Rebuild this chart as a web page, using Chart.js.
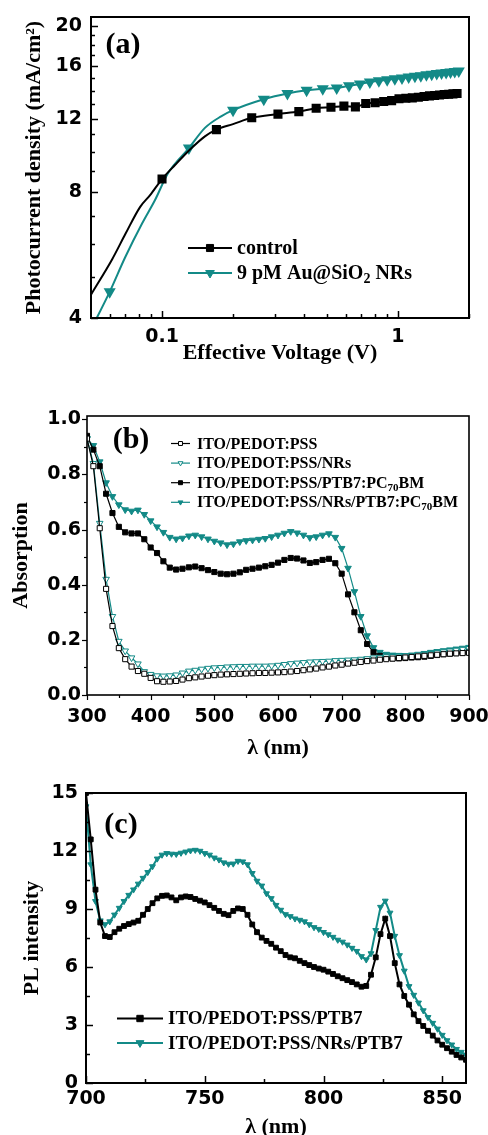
<!DOCTYPE html>
<html>
<head>
<meta charset="utf-8">
<script src="https://cdn.jsdelivr.net/npm/chart.js@4"></script>
<style>
  html, body { margin: 0; padding: 0; background: #fff; overflow: hidden; }
  canvas { position: absolute; left: 0; }
  #ca { top: 0; }
  #cb { top: 380px; }
  #cc { top: 765px; }
</style>
</head>
<body>
<canvas id="ca" width="488" height="372"></canvas>
<canvas id="cb" width="488" height="385"></canvas>
<canvas id="cc" width="488" height="380"></canvas>
<script>
// ---------- panel (a): photocurrent vs effective voltage ----------
const voltCtrl = [0.10, 0.17, 0.24, 0.31, 0.38, 0.45, 0.52, 0.59, 0.66, 0.73, 0.80, 0.87, 0.94, 1.01, 1.08, 1.15, 1.22, 1.29, 1.36, 1.43, 1.50, 1.57, 1.64, 1.71, 1.78];
const jCtrl = [8.6, 11.29, 12.05, 12.3, 12.47, 12.7, 12.77, 12.85, 12.8, 13.04, 13.1, 13.19, 13.25, 13.39, 13.42, 13.45, 13.5, 13.55, 13.6, 13.63, 13.66, 13.7, 13.72, 13.75, 13.78];
const voltCtrlLine = [0.05, 0.0615, 0.07, 0.0808, 0.089, 0.1135, 0.1334, 0.152, 0.2];
const jCtrlLine = [4.55, 5.53, 6.36, 7.38, 7.87, 9.29, 10.2, 10.88, 11.64];

const voltNR = [0.06, 0.13, 0.20, 0.27, 0.34, 0.41, 0.48, 0.55, 0.62, 0.69, 0.76, 0.83, 0.90, 0.97, 1.04, 1.11, 1.18, 1.25, 1.32, 1.39, 1.46, 1.53, 1.60, 1.67, 1.74, 1.81];
const jNR = [4.62, 10.2, 12.57, 13.35, 13.78, 14.02, 14.15, 14.2, 14.38, 14.52, 14.68, 14.78, 14.86, 14.94, 15.0, 15.08, 15.15, 15.2, 15.28, 15.33, 15.38, 15.42, 15.46, 15.5, 15.55, 15.6];
const voltNRLine = [0.05, 0.0698, 0.0823, 0.0934, 0.106, 0.152, 0.178];
const jNRLine = [3.76, 5.59, 6.73, 7.66, 8.88, 11.4, 12.15];

const jTicks = [4, 5, 6, 7, 8, 9, 10, 11, 12, 13, 14, 15, 16, 17, 18, 19, 20];
const jLabels = [4, 8, 12, 16, 20];
const voltTicks = [0.06, 0.07, 0.08, 0.09, 0.1, 0.2, 0.3, 0.4, 0.5, 0.6, 0.7, 0.8, 0.9, 1, 2];
const voltLabels = [0.1, 1];

// ---------- panel (b): absorption spectra ----------
const wlAbs = [300, 310, 320, 330, 340, 350, 360, 370, 380, 390, 400, 410, 420, 430, 440, 450, 460, 470, 480, 490, 500, 510, 520, 530, 540, 550, 560, 570, 580, 590, 600, 610, 620, 630, 640, 650, 660, 670, 680, 690, 700, 710, 720, 730, 740, 750, 760, 770, 780, 790, 800, 810, 820, 830, 840, 850, 860, 870, 880, 890, 900];
const absPedot = [0.93, 0.83, 0.605, 0.385, 0.25, 0.17, 0.13, 0.103, 0.087, 0.077, 0.062, 0.05, 0.048, 0.049, 0.051, 0.056, 0.061, 0.064, 0.067, 0.07, 0.072, 0.074, 0.075, 0.076, 0.077, 0.078, 0.079, 0.08, 0.08, 0.081, 0.082, 0.083, 0.085, 0.087, 0.09, 0.093, 0.096, 0.1, 0.103, 0.107, 0.11, 0.114, 0.117, 0.12, 0.123, 0.125, 0.128, 0.13, 0.132, 0.134, 0.136, 0.138, 0.14, 0.142, 0.144, 0.146, 0.148, 0.15, 0.151, 0.152, 0.153];
const absPedotNR = [0.93, 0.84, 0.623, 0.42, 0.285, 0.195, 0.16, 0.135, 0.113, 0.085, 0.075, 0.07, 0.069, 0.07, 0.073, 0.08, 0.087, 0.09, 0.094, 0.097, 0.099, 0.1, 0.102, 0.103, 0.104, 0.104, 0.105, 0.105, 0.105, 0.106, 0.108, 0.111, 0.114, 0.116, 0.118, 0.12, 0.121, 0.122, 0.123, 0.125, 0.126, 0.127, 0.128, 0.13, 0.132, 0.135, 0.137, 0.139, 0.14, 0.141, 0.142, 0.144, 0.146, 0.148, 0.151, 0.154, 0.157, 0.16, 0.163, 0.166, 0.169];
const absBlend = [0.94, 0.89, 0.83, 0.73, 0.66, 0.61, 0.59, 0.586, 0.586, 0.565, 0.535, 0.515, 0.485, 0.462, 0.455, 0.458, 0.463, 0.466, 0.46, 0.453, 0.446, 0.44, 0.438, 0.44, 0.445, 0.454, 0.458, 0.462, 0.467, 0.472, 0.48, 0.49, 0.497, 0.495, 0.488, 0.479, 0.482, 0.49, 0.494, 0.478, 0.44, 0.365, 0.3, 0.235, 0.185, 0.155, 0.142, 0.135, 0.133, 0.133, 0.134, 0.136, 0.137, 0.139, 0.142, 0.145, 0.148, 0.15, 0.152, 0.154, 0.156];
const absBlendNR = [0.93, 0.905, 0.846, 0.77, 0.72, 0.69, 0.672, 0.667, 0.671, 0.655, 0.632, 0.61, 0.59, 0.572, 0.566, 0.569, 0.577, 0.58, 0.574, 0.566, 0.558, 0.552, 0.545, 0.548, 0.556, 0.56, 0.562, 0.565, 0.568, 0.574, 0.58, 0.587, 0.593, 0.588, 0.58, 0.571, 0.574, 0.58, 0.585, 0.572, 0.532, 0.46, 0.375, 0.285, 0.215, 0.172, 0.155, 0.148, 0.145, 0.144, 0.143, 0.145, 0.148, 0.151, 0.155, 0.158, 0.161, 0.164, 0.167, 0.17, 0.173];
const absTicks = [0, 0.1, 0.2, 0.3, 0.4, 0.5, 0.6, 0.7, 0.8, 0.9, 1.0];
const absLabels = [0, 0.2, 0.4, 0.6, 0.8, 1.0];
const wlAbsTicks = [300, 350, 400, 450, 500, 550, 600, 650, 700, 750, 800, 850, 900];
const wlAbsLabels = [300, 400, 500, 600, 700, 800, 900];

// ---------- panel (c): PL spectra ----------
const wlPL = [700, 702, 704, 706, 708, 710, 712, 714, 716, 718, 720, 722, 724, 726, 728, 730, 732, 734, 736, 738, 740, 742, 744, 746, 748, 750, 752, 754, 756, 758, 760, 762, 764, 766, 768, 770, 772, 774, 776, 778, 780, 782, 784, 786, 788, 790, 792, 794, 796, 798, 800, 802, 804, 806, 808, 810, 812, 814, 816, 818, 820, 822, 824, 826, 828, 830, 832, 834, 836, 838, 840, 842, 844, 846, 848, 850, 852, 854, 856, 858, 860];
const plRef = [15.0, 12.6, 10.0, 8.3, 7.6, 7.55, 7.8, 7.98, 8.12, 8.22, 8.3, 8.39, 8.7, 9.0, 9.3, 9.55, 9.68, 9.7, 9.6, 9.45, 9.6, 9.65, 9.62, 9.52, 9.43, 9.34, 9.2, 9.06, 8.9, 8.75, 8.68, 8.9, 9.03, 9.0, 8.7, 8.2, 7.8, 7.52, 7.35, 7.2, 7.0, 6.82, 6.62, 6.5, 6.45, 6.32, 6.2, 6.1, 6.0, 5.92, 5.86, 5.76, 5.64, 5.52, 5.42, 5.32, 5.22, 5.1, 4.98, 5.02, 5.6, 6.5, 7.7, 8.5, 7.6, 6.2, 5.1, 4.5, 4.05, 3.55, 3.2, 2.95, 2.7, 2.45, 2.2, 1.98, 1.8, 1.62, 1.45, 1.32, 1.2];
const plNR = [14.3, 11.3, 9.4, 8.4, 8.2, 8.35, 8.7, 9.05, 9.4, 9.72, 10.0, 10.3, 10.6, 10.9, 11.2, 11.6, 11.8, 11.88, 11.85, 11.84, 11.9, 11.96, 12.02, 12.05, 12.0, 11.88, 11.8, 11.65, 11.55, 11.4, 11.33, 11.34, 11.48, 11.45, 11.3, 10.85, 10.45, 10.2, 9.8, 9.55, 9.2, 8.95, 8.72, 8.62, 8.5, 8.43, 8.35, 8.2, 8.05, 7.96, 7.8, 7.68, 7.55, 7.4, 7.3, 7.15, 6.98, 6.82, 6.55, 6.38, 6.7, 7.9, 9.1, 9.42, 8.8, 7.6, 6.6, 5.8, 5.0, 4.55, 4.15, 3.75, 3.4, 3.1, 2.8, 2.48, 2.2, 1.98, 1.75, 1.6, 1.45];
const plTicks = [0, 1.5, 3, 4.5, 6, 7.5, 9, 10.5, 12, 13.5, 15];
const plLabels = [0, 3, 6, 9, 12, 15];
const wlPLTicks = [700, 725, 750, 775, 800, 825, 850];
const wlPLLabels = [700, 750, 800, 850];

const TEAL = "#138a87";
const SERIF = "'Liberation Serif', 'Times New Roman', serif";
const SANS = "'DejaVu Sans', sans-serif";

// text with _{sub} parts, drawn left to right
function drawRich(ctx, str, x, y, size) {
  str.split(/(_\{[^}]*\})/).forEach(p => {
    if (!p) return;
    const sub = p.startsWith("_{");
    const s = sub ? p.slice(2, -1) : p;
    ctx.font = "bold " + (sub ? Math.round(size * 0.68) : size) + "px " + SERIF;
    ctx.fillText(s, x, sub ? y + size * 0.25 : y);
    x += ctx.measureText(s).width;
  });
}

function drawMarker(ctx, style, x, y, r, fill, stroke) {
  ctx.beginPath();
  if (style === "rect") {
    const h = r * Math.SQRT1_2;
    ctx.rect(x - h, y - h, 2 * h, 2 * h);
  } else {
    // downward triangle, same as chart.js triangle rotated 180
    ctx.moveTo(x, y + r);
    ctx.lineTo(x - r * 0.866, y - r * 0.5);
    ctx.lineTo(x + r * 0.866, y - r * 0.5);
    ctx.closePath();
  }
  ctx.fillStyle = fill;
  ctx.fill();
  ctx.lineWidth = 1;
  ctx.strokeStyle = stroke;
  ctx.stroke();
}

// box frame, tick marks, in-plot legend and panel letter
const framePlugin = {
  id: "frame",
  afterDraw(chart, args, o) {
    const { ctx, chartArea: a } = chart;
    ctx.save();
    ctx.strokeStyle = "#000";
    ctx.lineWidth = o.lineWidth;
    ctx.strokeRect(a.left, a.top, a.right - a.left, a.bottom - a.top);
    const dir = o.out ? -1 : 1;
    const xs = chart.scales.x, ys = chart.scales.y;
    ctx.lineWidth = o.tickWidth;
    xs.ticks.forEach(t => {
      const px = Math.round(xs.getPixelForValue(t.value)) + 0.5;
      const len = t.label ? o.major : o.minor;
      ctx.beginPath();
      ctx.moveTo(px, a.bottom);
      ctx.lineTo(px, a.bottom - dir * len);
      ctx.stroke();
    });
    ys.ticks.forEach(t => {
      const py = Math.round(ys.getPixelForValue(t.value)) + 0.5;
      const len = t.label ? o.major : o.minor;
      ctx.beginPath();
      ctx.moveTo(a.left, py);
      ctx.lineTo(a.left + dir * len, py);
      ctx.stroke();
    });

    // panel letter
    ctx.fillStyle = "#000";
    ctx.textAlign = "center";
    ctx.textBaseline = "middle";
    ctx.font = "bold 30px " + SERIF;
    ctx.fillText(o.panel[0], o.panel[1], o.panel[2]);

    // legend
    const lg = o.legend;
    ctx.textAlign = "left";
    chart.data.datasets.forEach((ds, i) => {
      const y = lg.y + i * lg.step;
      ctx.strokeStyle = ds.borderColor;
      ctx.lineWidth = ds.borderWidth;
      ctx.beginPath();
      ctx.moveTo(lg.x0, y);
      ctx.lineTo(lg.x1, y);
      ctx.stroke();
      drawMarker(ctx, ds.pointStyle, (lg.x0 + lg.x1) / 2, y, lg.r,
        ds.pointBackgroundColor, ds.pointBorderColor);
      ctx.fillStyle = "#000";
      drawRich(ctx, ds.label, lg.tx, y + 1, lg.size);
    });
    ctx.restore();
  }
};

function axis(type, min, max, tickVals, labelVals, fmt, size, pad, titleText, titlePad) {
  const horiz = titlePad.top === 0;
  return {
    type: type,
    min: min,
    max: max,
    grid: { display: false, drawTicks: false },
    border: { display: false },
    afterBuildTicks: s => { s.ticks = tickVals.map(v => ({ value: v })); },
    // fixed axis box so the plot area lands where the reference has it
    afterFit: s => {
      if (horiz) {
        s.height = size;
        s.paddingLeft = 0;
        s.paddingRight = 0;
      } else {
        s.width = size;
        s.paddingTop = 0;
        s.paddingBottom = 0;
      }
    },
    ticks: {
      autoSkip: false,
      maxRotation: 0,
      padding: pad,
      color: "#000",
      font: { family: SANS, weight: "bold", size: 19 },
      callback: v => labelVals.some(l => Math.abs(l - v) < 1e-9) ? fmt(v) : ""
    },
    title: {
      display: true,
      text: titleText,
      color: "#000",
      padding: titlePad,
      font: { family: SERIF, weight: "bold", size: 22 }
    }
  };
}

function merge(vm, ym, vl, yl) {
  const pts = vm.map((v, i) => ({ x: v, y: ym[i], m: 1 }))
    .concat(vl.map((v, i) => ({ x: v, y: yl[i], m: 0 })));
  return pts.sort((p, q) => p.x - q.x);
}

function xy(xs, ys) {
  return xs.map((v, i) => ({ x: v, y: ys[i] }));
}

// ---- chart (a)
new Chart(document.getElementById("ca"), {
  type: "line",
  data: {
    datasets: [
      {
        label: "control",
        data: merge(voltCtrl, jCtrl, voltCtrlLine, jCtrlLine),
        borderColor: "#000",
        borderWidth: 2,
        pointStyle: "rect",
        pointRadius: c => (c.raw && c.raw.m ? 5 : 0),
        pointBackgroundColor: "#000",
        pointBorderColor: "#000",
        cubicInterpolationMode: "monotone"
      },
      {
        label: "9 pM Au@SiO_{2} NRs",
        data: merge(voltNR, jNR, voltNRLine, jNRLine),
        borderColor: TEAL,
        borderWidth: 2,
        pointStyle: "triangle",
        rotation: 180,
        pointRadius: c => (c.raw && c.raw.m ? 5 : 0),
        pointBackgroundColor: TEAL,
        pointBorderColor: TEAL,
        cubicInterpolationMode: "monotone"
      }
    ]
  },
  options: {
    responsive: false,
    animation: false,
    layout: { padding: { top: 17, right: 19, left: 0, bottom: 0 } },
    plugins: {
      legend: { display: false },
      tooltip: { enabled: false },
      frame: {
        lineWidth: 2, tickWidth: 1.5, out: false, major: 7, minor: 4,
        panel: ["(a)", 123, 45],
        legend: { x0: 188, x1: 232, y: 248, step: 25, r: 5, tx: 237, size: 20 }
      }
    },
    scales: {
      x: axis("logarithmic", 0.05, 2, voltTicks, voltLabels, v => String(v),
        54, 8, "Effective Voltage (V)", { top: 0, bottom: 5 }),
      y: axis("logarithmic", 4, 21, jTicks, jLabels, v => String(v),
        91, 9, "Photocurrent density (mA/cm²)", { top: 21, bottom: 0 })
    }
  },
  plugins: [framePlugin]
});

// ---- chart (b)
new Chart(document.getElementById("cb"), {
  type: "line",
  data: {
    datasets: [
      {
        label: "ITO/PEDOT:PSS",
        data: xy(wlAbs, absPedot),
        borderColor: "#000", borderWidth: 1.2,
        pointStyle: "rect", pointRadius: 3.6, pointBorderWidth: 1,
        pointBackgroundColor: "#fff", pointBorderColor: "#000"
      },
      {
        label: "ITO/PEDOT:PSS/NRs",
        data: xy(wlAbs, absPedotNR),
        borderColor: TEAL, borderWidth: 1.2,
        pointStyle: "triangle", rotation: 180, pointRadius: 3.8, pointBorderWidth: 1,
        pointBackgroundColor: "#fff", pointBorderColor: TEAL
      },
      {
        label: "ITO/PEDOT:PSS/PTB7:PC_{70}BM",
        data: xy(wlAbs, absBlend),
        borderColor: "#000", borderWidth: 1.2,
        pointStyle: "rect", pointRadius: 3.6, pointBorderWidth: 1,
        pointBackgroundColor: "#000", pointBorderColor: "#000"
      },
      {
        label: "ITO/PEDOT:PSS/NRs/PTB7:PC_{70}BM",
        data: xy(wlAbs, absBlendNR),
        borderColor: TEAL, borderWidth: 1.2,
        pointStyle: "triangle", rotation: 180, pointRadius: 3.8, pointBorderWidth: 1,
        pointBackgroundColor: TEAL, pointBorderColor: TEAL
      }
    ]
  },
  options: {
    responsive: false,
    animation: false,
    layout: { padding: { top: 36, right: 19, left: 0, bottom: 0 } },
    plugins: {
      legend: { display: false },
      tooltip: { enabled: false },
      frame: {
        lineWidth: 1.6, tickWidth: 1.2, out: true, major: 5, minor: 3,
        panel: ["(b)", 131, 60],
        legend: { x0: 171, x1: 190, y: 63.5, step: 19.6, r: 2.8, tx: 197, size: 16 }
      }
    },
    scales: {
      x: axis("linear", 300, 900, wlAbsTicks, wlAbsLabels, v => String(v),
        70, 11, "λ (nm)", { top: 0, bottom: 3 }),
      y: axis("linear", 0, 1.012, absTicks, absLabels, v => v.toFixed(1),
        87, 6, "Absorption", { top: 8, bottom: 0 })
    }
  },
  plugins: [framePlugin]
});

// ---- chart (c)
new Chart(document.getElementById("cc"), {
  type: "line",
  data: {
    datasets: [
      {
        label: "ITO/PEDOT:PSS/PTB7",
        data: xy(wlPL, plRef),
        borderColor: "#000", borderWidth: 2,
        pointStyle: "rect", pointRadius: 3.4, pointBorderWidth: 1,
        pointBackgroundColor: "#000", pointBorderColor: "#000"
      },
      {
        label: "ITO/PEDOT:PSS/NRs/PTB7",
        data: xy(wlPL, plNR),
        borderColor: TEAL, borderWidth: 2,
        pointStyle: "triangle", rotation: 180, pointRadius: 3.4, pointBorderWidth: 1,
        pointBackgroundColor: TEAL, pointBorderColor: TEAL
      }
    ]
  },
  options: {
    responsive: false,
    animation: false,
    layout: { padding: { top: 28, right: 22, left: 0, bottom: 0 } },
    plugins: {
      legend: { display: false },
      tooltip: { enabled: false },
      frame: {
        lineWidth: 2, tickWidth: 1.5, out: false, major: 7, minor: 4,
        panel: ["(c)", 121, 60],
        legend: { x0: 117, x1: 163, y: 253.5, step: 24.4, r: 4.5, tx: 168, size: 19 }
      }
    },
    scales: {
      x: axis("linear", 700, 860, wlPLTicks, wlPLLabels, v => String(v),
        62, 5, "λ (nm)", { top: 0, bottom: 4 }),
      y: axis("linear", 0, 15, plTicks, plLabels, v => String(v),
        86, 8, "PL intensity", { top: 19, bottom: 0 })
    }
  },
  plugins: [framePlugin]
});
</script>
</body>
</html>
